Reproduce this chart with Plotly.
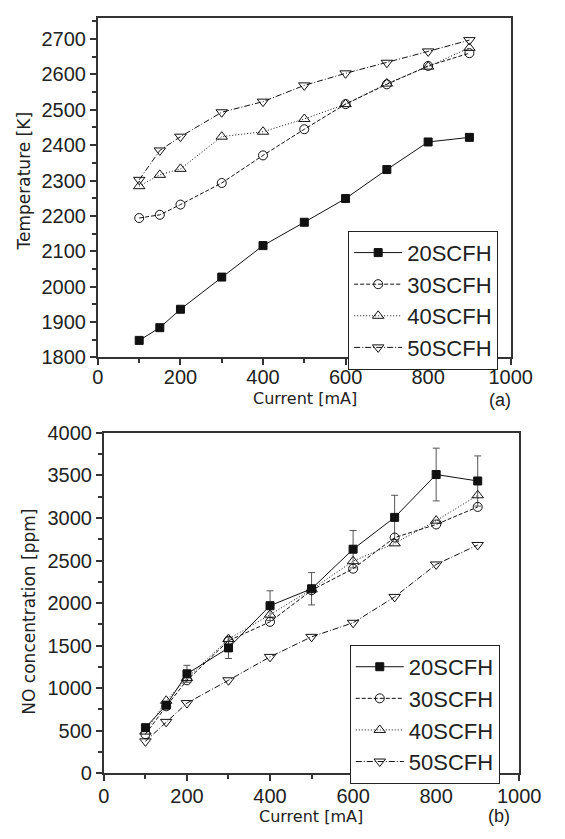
import plotly.graph_objects as go

# ---- data ----
current = [100, 150, 200, 300, 400, 500, 600, 700, 800, 900]
series_names = ["20SCFH", "30SCFH", "40SCFH", "50SCFH"]

temp_20 = [1848, 1884, 1936, 2027, 2116, 2182, 2249, 2331, 2409, 2422]
temp_30 = [2194, 2203, 2232, 2293, 2371, 2445, 2516, 2572, 2624, 2660]
temp_40 = [2284, 2316, 2333, 2424, 2438, 2474, 2516, 2574, 2622, 2675]
temp_50 = [2302, 2385, 2424, 2493, 2523, 2569, 2603, 2633, 2665, 2697]

no_20 = [535, 800, 1168, 1473, 1969, 2168, 2633, 3007, 3511, 3435]
no_20_err = [30, 40, 100, 125, 175, 190, 220, 260, 310, 295]
no_30 = [458, 786, 1092, 1557, 1779, 2150, 2404, 2770, 2924, 3130]
no_40 = [489, 851, 1118, 1576, 1863, 2160, 2492, 2702, 2969, 3267]
no_50 = [374, 603, 824, 1092, 1367, 1603, 1768, 2072, 2454, 2683]

x_ticks = [0, 200, 400, 600, 800, 1000]

W, H = 565, 839
FONT = "Liberation Sans, Arial, Helvetica, sans-serif"
TFONT = "DejaVu Sans, Verdana, sans-serif"
INK = "#222222"

styles = [
    dict(dash="solid", symbol="square", size=8),
    dict(dash="4px,2px", symbol="circle-open", size=9),
    dict(dash="1px,2px", symbol="triangle-up-open", size=10),
    dict(dash="6px,2px,1px,2px", symbol="triangle-down-open", size=10),
]

fig = go.Figure()

top_data = [temp_20, temp_30, temp_40, temp_50]
bot_data = [no_20, no_30, no_40, no_50]

for i, (name, ys) in enumerate(zip(series_names, top_data)):
    st = styles[i]
    fig.add_trace(go.Scatter(
        x=current, y=ys, name=name, mode="lines+markers",
        xaxis="x", yaxis="y", legend="legend",
        line=dict(color="#111111", width=1, dash=st["dash"]),
        marker=dict(symbol=st["symbol"], size=st["size"], color="#111111",
                    line=dict(color="#111111", width=1)),
    ))

for i, (name, ys) in enumerate(zip(series_names, bot_data)):
    st = styles[i]
    kw = {}
    if i == 0:
        kw["error_y"] = dict(type="data", array=no_20_err, visible=True,
                             thickness=1, width=3.5, color="#555555")
    fig.add_trace(go.Scatter(
        x=current, y=ys, name=name, mode="lines+markers",
        xaxis="x2", yaxis="y2", legend="legend2",
        line=dict(color="#111111", width=1, dash=st["dash"]),
        marker=dict(symbol=st["symbol"], size=st["size"], color="#111111",
                    line=dict(color="#111111", width=1)),
        **kw,
    ))

def px_x(p):
    return p / W

def px_y(p):
    return 1 - p / H

axis_common = dict(
    showline=True, linecolor="#333333", linewidth=2, mirror=True,
    ticks="outside", ticklen=6, tickwidth=1.5, tickcolor="#333333",
    showgrid=False, zeroline=False,
    tickfont=dict(family=FONT, size=20, color=INK),
)
minor_x = dict(dtick=100, ticks="outside", ticklen=4, tickcolor="#333333")

legend_common = dict(
    xanchor="left", yanchor="top",
    bgcolor="white", bordercolor="#222222", borderwidth=1,
    font=dict(family=FONT, size=22, color=INK),
    tracegroupgap=0, itemwidth=48,
)

fig.update_layout(
    width=W, height=H,
    margin=dict(l=0, r=0, t=0, b=0),
    paper_bgcolor="white", plot_bgcolor="white",
    font=dict(family=FONT, color=INK),
    xaxis=dict(domain=[px_x(96.7), px_x(531)], anchor="y", range=[0, 1000],
               tickvals=x_ticks, minor=minor_x, ticklabelstandoff=-5, **axis_common),
    yaxis=dict(domain=[px_y(355.7), px_y(7)], anchor="x", range=[1800, 2760],
               dtick=100, tick0=1800,
               minor=dict(dtick=50, ticks="outside", ticklen=4, tickcolor="#333333"),
               **axis_common),
    xaxis2=dict(domain=[px_x(103), px_x(540)], anchor="y2", range=[0, 1000],
                tickvals=x_ticks, minor=minor_x, ticklabelstandoff=-2, **axis_common),
    yaxis2=dict(domain=[px_y(782.7), px_y(433.3)], anchor="x2", range=[0, 4000],
                dtick=500, tick0=0,
                minor=dict(dtick=250, ticks="outside", ticklen=4, tickcolor="#333333"),
                **axis_common),
    legend=dict(x=px_x(360), y=px_y(225.7), **legend_common),
    legend2=dict(x=px_x(361.7), y=px_y(651), **legend_common),
    showlegend=True,
)

xt_font = dict(family=TFONT, size=16, color=INK)
yt_font = dict(family=TFONT, size=17, color=INK)
lab_font = dict(family=FONT, size=18, color=INK)
annotations = [
    dict(text="Current [mA]", x=px_x(315), y=px_y(397.5), xref="paper", yref="paper",
         showarrow=False, font=xt_font, xanchor="center", yanchor="middle"),
    dict(text="(a)", x=px_x(520), y=px_y(399), xref="paper", yref="paper",
         showarrow=False, font=lab_font, xanchor="center", yanchor="middle"),
    dict(text="Temperature [K]", x=px_x(19), y=px_y(175), xref="paper", yref="paper",
         showarrow=False, font=yt_font, textangle=-90, xanchor="center", yanchor="middle"),
    dict(text="Current [mA]", x=px_x(321), y=px_y(827), xref="paper", yref="paper",
         showarrow=False, font=xt_font, xanchor="center", yanchor="middle"),
    dict(text="(b)", x=px_x(519), y=px_y(827), xref="paper", yref="paper",
         showarrow=False, font=lab_font, xanchor="center", yanchor="middle"),
    dict(text="NO concentration [ppm]", x=px_x(24), y=px_y(617), xref="paper", yref="paper",
         showarrow=False, font=yt_font, textangle=-90, xanchor="center", yanchor="middle"),
]
fig.update_layout(annotations=annotations)

post = (
    "document.documentElement.style.margin='0';"
    "document.body.style.margin='0';"
    "document.body.style.overflow='hidden';"
)
fig.write_html("out.html", post_script=post, config={"displayModeBar": False})
